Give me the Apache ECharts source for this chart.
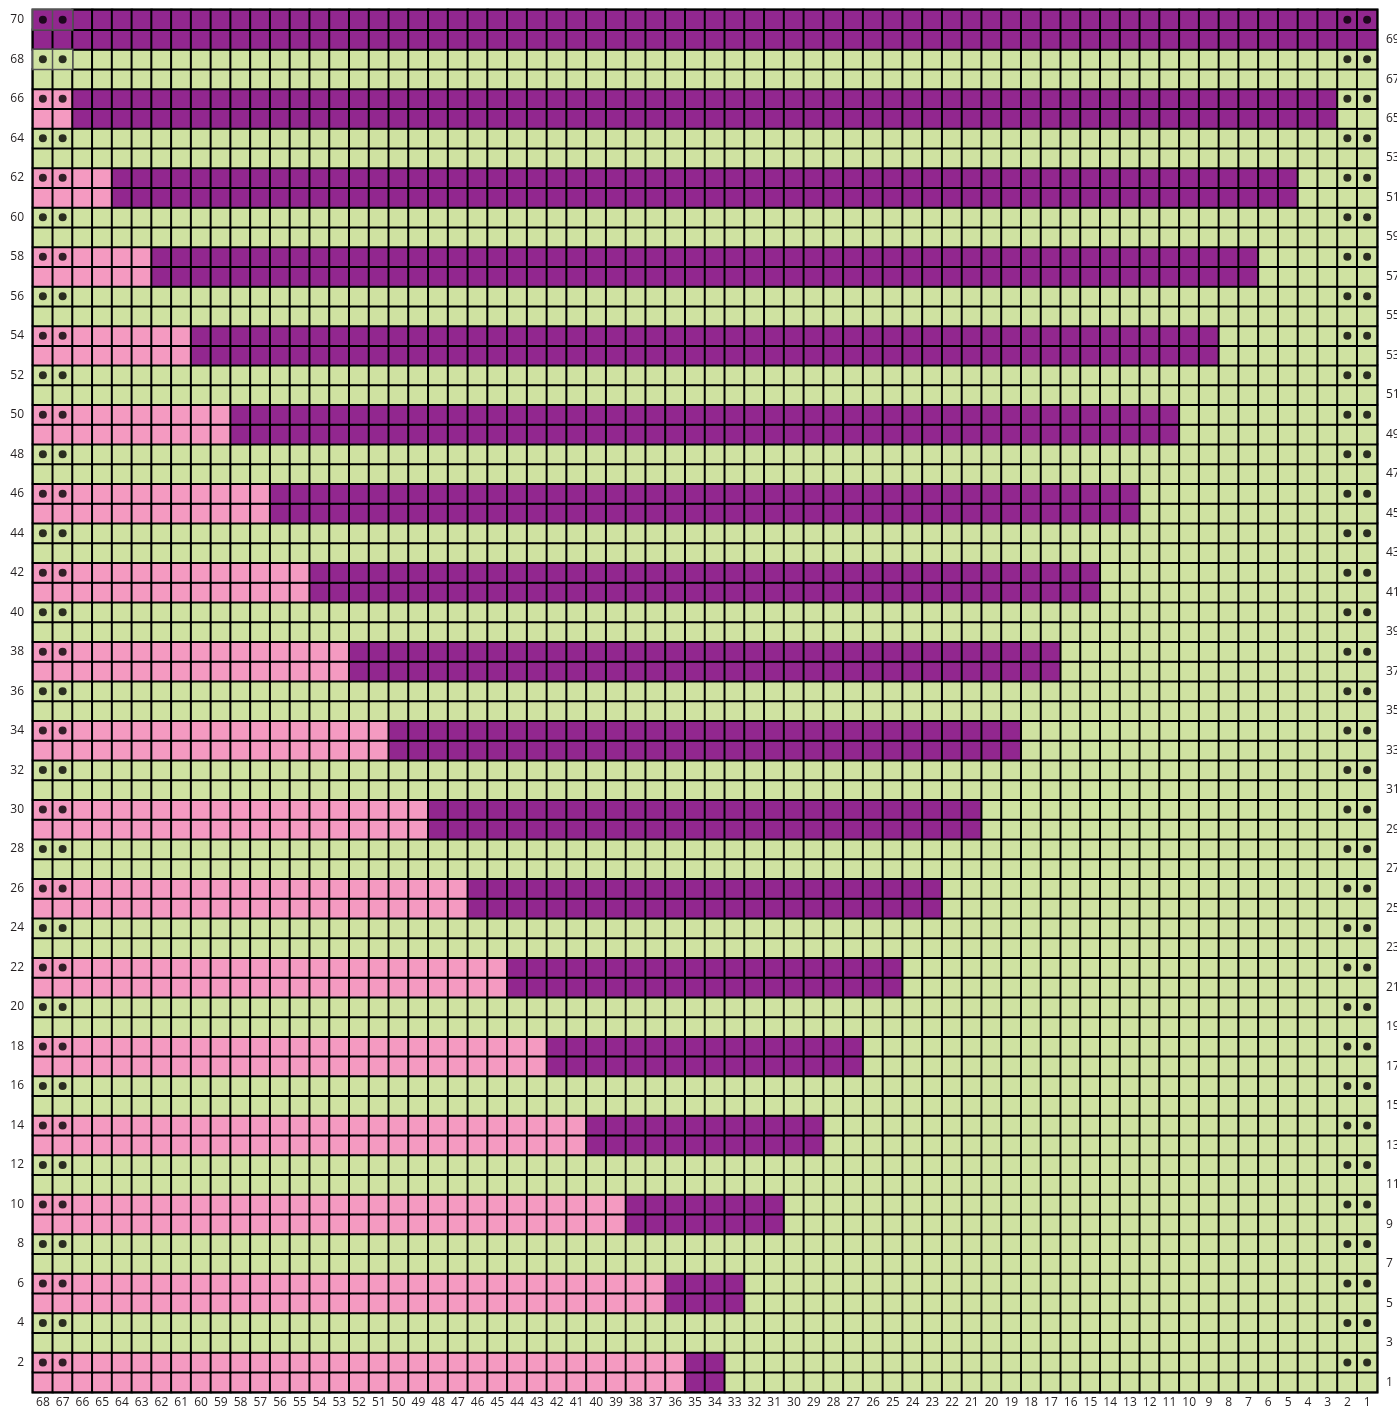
<!DOCTYPE html>
<html style="height: 100%">
<head>
    <meta charset="utf-8">
    <title>Chart</title>
</head>
<body style="height: 100%; margin: 0; background: #fff">
<div id="container" style="width: 1397px; height: 1410px"></div>
<script type="text/javascript" src="https://cdn.jsdelivr.net/npm/echarts@6/dist/echarts.min.js"></script>
<script type="text/javascript">
// stitch columns, left to right
var colLabels = ['68','67','66','65','64','63','62','61','60','59','58','57','56','55','54','53','52','51','50','49',
    '48','47','46','45','44','43','42','41','40','39','38','37','36','35','34','33','32','31','30','29',
    '28','27','26','25','24','23','22','21','20','19','18','17','16','15','14','13','12','11','10','9',
    '8','7','6','5','4','3','2','1'];
// rows, bottom to top
var rowLabels = ['1','2','3','4','5','6','7','8','9','10','11','12','13','14','15','16','17','18','19','20',
    '21','22','23','24','25','26','27','28','29','30','31','32','33','34','35','36','37','38','39','40',
    '41','42','43','44','45','46','47','48','49','50','51','52','53','54','55','56','57','58','59','60',
    '61','62','63','64','65','66','67','68','69','70'];
// labels printed on the right for odd rows 1,3,...,69 (as in the original)
var rightLabels = ['1','3','5','7','9','11','13','15','17','19','21','23','25','27','29','31','33','35','37','39',
    '41','43','45','47','49','51','53','55','57','59','51','53','65','67','69'];

// two-row stripes: top row of stripe, pink stitches from the left, then purple stitches
var stripeTopRows = [70, 66, 62, 58, 54, 50, 46, 42, 38, 34, 30, 26, 22, 18, 14, 10, 6, 2];
var pinkCounts    = [0, 2, 4, 6, 8, 10, 12, 14, 16, 18, 20, 22, 24, 26, 28, 30, 32, 33];
var purpleCounts  = [68, 64, 60, 56, 52, 48, 44, 40, 36, 32, 28, 24, 20, 16, 12, 8, 4, 2];

// dots (even rows, edge columns)
var dotRows = [2,4,6,8,10,12,14,16,18,20,22,24,26,28,30,32,34,36,38,40,42,44,46,48,50,52,54,56,58,60,62,64,66,68,70];
var dotCols = ['68','67','2','1'];

// cells outlined in grey in the top-left corner
var greyRows = [70, 68];
var greyCols = ['68', '67'];

var GREEN = 0, PINK = 1, PURPLE = 2;

// build cell table
var grid = {};
for (var r = 1; r <= rowLabels.length; r++) {
    grid[r] = [];
    for (var i = 0; i < colLabels.length; i++) grid[r].push(GREEN);
}
for (var s = 0; s < stripeTopRows.length; s++) {
    [stripeTopRows[s], stripeTopRows[s] - 1].forEach(function (row) {
        for (var i = 0; i < pinkCounts[s]; i++) grid[row][i] = PINK;
        for (var j = pinkCounts[s]; j < pinkCounts[s] + purpleCounts[s]; j++) grid[row][j] = PURPLE;
    });
}
function isGrey(row, i) {
    return greyRows.indexOf(row) >= 0 && greyCols.indexOf(colLabels[i]) >= 0;
}
var cells = [], greyCells = [];
for (var r = 1; r <= rowLabels.length; r++) {
    for (var i = 0; i < colLabels.length; i++) {
        if (isGrey(r, i)) {
            greyCells.push({value: [i, r - 1, grid[r][i]], itemStyle: {borderColor: '#555', borderWidth: 1.5}});
        } else {
            cells.push([i, r - 1, grid[r][i]]);
        }
    }
}
cells = cells.concat(greyCells);

var dots = [];
dotRows.forEach(function (row) {
    dotCols.forEach(function (c) {
        dots.push([colLabels.indexOf(c), rowLabels.indexOf(String(row))]);
    });
});

var labelFont = 'Open Sans';
var dom = document.getElementById('container');
var myChart = echarts.init(dom, null, {renderer: 'canvas'});

var option = {
    animation: false,
    backgroundColor: '#ffffff',
    grid: {
        left: 33,
        right: 20,
        top: 10,
        bottom: 18,
        containLabel: false,
        outerBoundsMode: 'none',
        show: true,
        borderColor: '#000',
        borderWidth: 3,
        backgroundColor: 'transparent'
    },
    xAxis: {
        type: 'category',
        data: colLabels,
        position: 'bottom',
        axisLine: {show: false},
        axisTick: {show: false},
        splitLine: {show: false},
        axisLabel: {
            interval: 0,
            margin: 5,
            fontSize: 12,
            fontFamily: labelFont,
            color: '#231f20'
        }
    },
    yAxis: [
        {
            type: 'category',
            data: rowLabels,
            position: 'left',
            axisLine: {show: false},
            axisTick: {show: false},
            splitLine: {show: false},
            axisLabel: {
                interval: 0,
                margin: 9,
                fontSize: 12,
                fontFamily: labelFont,
                color: '#231f20',
                formatter: function (v) {
                    return (+v) % 2 === 0 ? v : '';
                }
            }
        },
        {
            type: 'category',
            data: rowLabels,
            position: 'right',
            axisLine: {show: false},
            axisTick: {show: false},
            splitLine: {show: false},
            axisLabel: {
                interval: 0,
                margin: 9,
                fontSize: 12,
                fontFamily: labelFont,
                color: '#231f20',
                padding: [4, 0, 0, 0],
                formatter: function (v) {
                    var n = +v;
                    return n % 2 === 1 ? rightLabels[(n - 1) / 2] : '';
                }
            }
        }
    ],
    visualMap: {
        show: false,
        type: 'piecewise',
        dimension: 2,
        seriesIndex: 0,
        pieces: [
            {value: GREEN, color: '#cfe2a1'},
            {value: PINK, color: '#f49ac1'},
            {value: PURPLE, color: '#92278f'}
        ]
    },
    series: [
        {
            type: 'heatmap',
            data: cells,
            itemStyle: {
                borderColor: '#000',
                borderWidth: 2
            },
            emphasis: {disabled: true},
            z: 2
        },
        {
            type: 'scatter',
            data: dots,
            symbol: 'circle',
            symbolSize: 8,
            itemStyle: {color: '#000'},
            emphasis: {disabled: true},
            z: 5
        }
    ]
};

myChart.setOption(option);
</script>
</body>
</html>
